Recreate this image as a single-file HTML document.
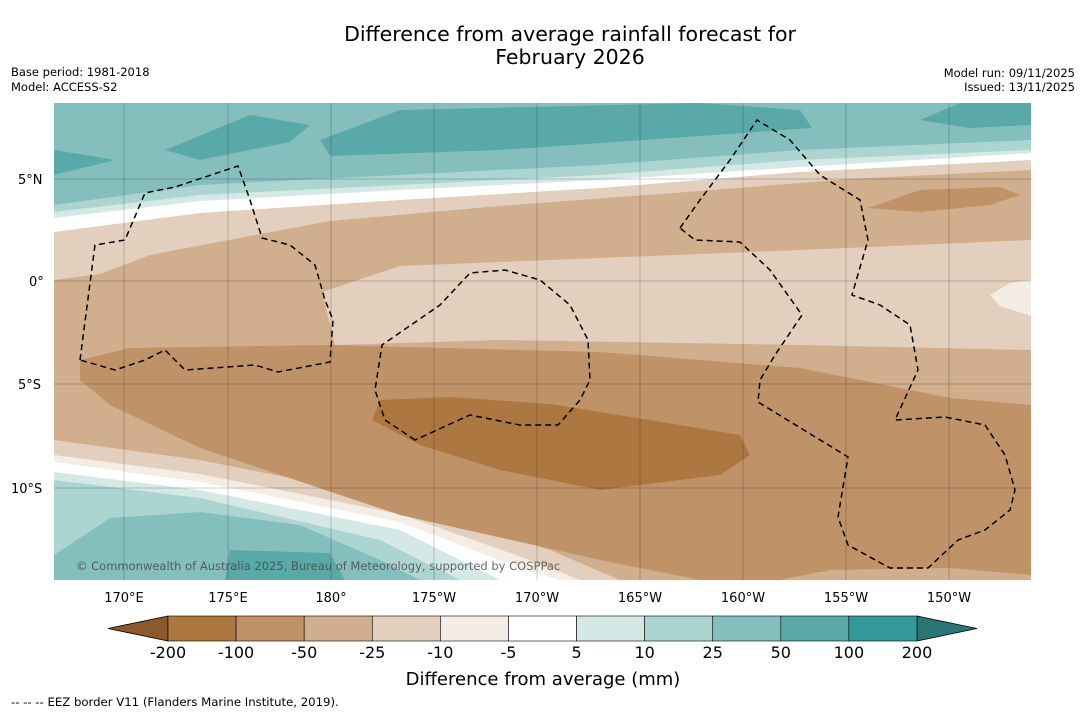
<!DOCTYPE html>
<html><head><meta charset="utf-8"><style>
body{margin:0;background:#fff;font-family:"DejaVu Sans",sans-serif}
</style></head><body>
<svg width="1085" height="713" viewBox="0 0 1085 713" xmlns="http://www.w3.org/2000/svg" font-family="DejaVu Sans, sans-serif">
<text x="570" y="41" text-anchor="middle" font-size="20.5">Difference from average rainfall forecast for</text>
<text x="570" y="64" text-anchor="middle" font-size="20.5">February 2026</text>
<text x="11" y="76" font-size="11.5">Base period: 1981-2018</text>
<text x="11" y="91" font-size="11.5">Model: ACCESS-S2</text>
<text x="1075" y="77" font-size="11.5" text-anchor="end">Model run: 09/11/2025</text>
<text x="1075" y="91" font-size="11.5" text-anchor="end">Issued: 13/11/2025</text>
<defs><clipPath id="mc"><rect x="54" y="103" width="977" height="477"/></clipPath></defs>
<g clip-path="url(#mc)">
<rect x="54" y="103" width="977" height="477" fill="#85bfbd"/>
<path fill="#5aa9a9" d="M320,140 L400,110 L700,103 L800,110 L812,128 L700,136 L500,150 L330,156Z M165,150 L250,115 L310,125 L290,142 L200,160Z M920,120 L960,103 L1031,103 L1031,125 L970,128Z M54,150 L115,160 L54,175Z"/>
<path fill="#acd5d2" d="M54,205 L200,185 L400,175 L600,165 L800,150 L1031,140 L1031,580 L54,580Z"/>
<path fill="#d4e9e6" d="M54,212 L200,195 L400,185 L600,175 L800,160 L1031,150 L1031,580 L54,580Z"/>
<path fill="#ffffff" d="M54,218 L200,201 L400,190 L600,180 L800,167 L1031,153 L1031,580 L54,580Z"/>
<path fill="#e3cfbd" d="M54,232 L200,213 L400,200 L600,188 L800,172 L1031,160 L1031,580 L54,580Z"/>
<path fill="#d1ae8d" d="M54,280 L100,274 L150,255 L250,236 L330,221 L500,206 L700,191 L850,179 L1031,170 L1031,580 L54,580Z"/>
<path fill="#e3cfbd" d="M322,292 L400,266 L600,258 L800,250 L1031,240 L1031,350 L800,345 L500,340 L335,345 Z"/>
<path fill="#f3ede6" d="M990,295 L1010,283 L1031,280 L1031,316 L1000,306Z"/>
<path fill="#c09268" d="M868,208 L920,190 L1000,187 L1020,195 L990,205 L920,212Z"/>
<path fill="#e3cfbd" d="M54,440 L200,460 L400,500 L550,550 L620,580 L54,580Z"/>
<path fill="#f3ede6" d="M54,455 L200,474 L400,514 L530,560 L580,580 L54,580Z"/>
<path fill="#ffffff" d="M54,462 L200,482 L400,522 L520,568 L560,580 L54,580Z"/>
<path fill="#d4e9e6" d="M54,472 L200,490 L400,530 L500,580 L54,580Z"/>
<path fill="#acd5d2" d="M54,480 L200,498 L380,540 L460,580 L54,580Z"/>
<path fill="#85bfbd" d="M54,555 L110,518 L200,512 L300,525 L380,560 L420,580 L54,580Z"/>
<path fill="#5aa9a9" d="M230,550 L330,553 L345,580 L225,580Z"/>
<path fill="#c09268" d="M80,360 L130,348 L330,345 L600,352 L800,368 L950,398 L1031,405 L1031,580 L1000,580 L950,570 L820,572 L780,580 L700,580 L600,560 L400,515 L200,448 L110,405 L80,380Z"/>
<path fill="#d1ae8d" d="M800,580 L830,570 L950,568 L1031,575 L1031,580Z"/>
<path fill="#ad7741" d="M380,400 L450,397 L550,404 L650,420 L740,435 L750,455 L720,475 L600,490 L500,470 L420,445 L372,420Z"/>
<g stroke="#000" stroke-width="0.5" stroke-opacity="0.4">
<line x1="124" y1="103" x2="124" y2="580"/><line x1="228" y1="103" x2="228" y2="580"/><line x1="331" y1="103" x2="331" y2="580"/><line x1="434" y1="103" x2="434" y2="580"/><line x1="537" y1="103" x2="537" y2="580"/><line x1="640" y1="103" x2="640" y2="580"/><line x1="743" y1="103" x2="743" y2="580"/><line x1="846" y1="103" x2="846" y2="580"/><line x1="949" y1="103" x2="949" y2="580"/>
<line x1="54" y1="179" x2="1031" y2="179"/><line x1="54" y1="281" x2="1031" y2="281"/><line x1="54" y1="384" x2="1031" y2="384"/><line x1="54" y1="488" x2="1031" y2="488"/>
</g>
<g fill="none" stroke="#000" stroke-width="1.5" stroke-dasharray="6,4">
<path d="M80,360 L95,245 L125,240 L145,193 L175,187 L238,166 L250,200 L262,238 L290,245 L315,265 L325,300 L333,320 L330,362 L278,372 L255,365 L185,370 L165,350 L145,360 L115,370 Z"/>
<path d="M415,440 L385,420 L375,390 L382,345 L440,305 L470,273 L505,270 L540,280 L570,305 L588,340 L590,380 L580,400 L558,425 L520,425 L470,415 Z"/>
<path d="M680,228 L700,200 L730,160 L757,120 L790,140 L820,175 L860,200 L868,240 L852,295 L880,305 L910,325 L918,370 L895,420 L945,417 L985,425 L1005,455 L1015,490 L1010,510 L985,530 L958,540 L928,568 L890,568 L848,545 L838,517 L848,457 L758,402 L760,380 L775,355 L802,315 L770,270 L740,242 L695,240 Z"/>
</g>
<text x="76" y="570" font-size="11.5" fill="#444" fill-opacity="0.8">© Commonwealth of Australia 2025, Bureau of Meteorology, supported by COSPPac</text>
</g>
<g font-size="13">
<text x="18" y="184">5°N</text><text x="29" y="286">0°</text><text x="18" y="389">5°S</text><text x="11" y="493">10°S</text>
</g>
<g font-size="13" text-anchor="middle">
<text x="124" y="602">170°E</text><text x="228" y="602">175°E</text><text x="331" y="602">180°</text><text x="434" y="602">175°W</text><text x="537" y="602">170°W</text><text x="640" y="602">165°W</text><text x="743" y="602">160°W</text><text x="846" y="602">155°W</text><text x="949" y="602">150°W</text>
</g>
<g id="cbar"></g>
<text x="543" y="685" text-anchor="middle" font-size="18">Difference from average (mm)</text>
<text x="11" y="706" font-size="11.7">--  --  -- EEZ border V11 (Flanders Marine Institute, 2019).</text>
</svg>
<script>
const levels=["-200","-100","-50","-25","-10","-5","5","10","25","50","100","200"];
const colors=["#ad7741","#c09268","#d1ae8d","#e3cfbd","#f3ede6","#ffffff","#d4e9e6","#acd5d2","#85bfbd","#5aa9a9","#34999a"];
const extColors=["#8a5a2e","#2a7575"];
const ns="http://www.w3.org/2000/svg";
const g=document.getElementById('cbar');
const x0=168,x1=917,y0=616,h=25;
const w=(x1-x0)/colors.length;
function mk(t,a){const e=document.createElementNS(ns,t);for(const k in a)e.setAttribute(k,a[k]);g.appendChild(e);return e;}
const lt=mk('polygon',{points:`${x0},${y0} ${x0-60},${y0+h/2} ${x0},${y0+h}`,fill:extColors[0],stroke:'#000','stroke-width':0.8});


const rt=mk('polygon',{points:`${x1},${y0} ${x1+60},${y0+h/2} ${x1},${y0+h}`,fill:extColors[1],stroke:'#000','stroke-width':0.8});


colors.forEach((c,i)=>{
 const r=mk('rect',{x:x0+i*w,y:y0,width:w,height:h,fill:c,stroke:'#000','stroke-width':0.6});
 
 
});
levels.forEach((l,i)=>{
 const t=mk('text',{x:x0+i*w,y:658,'text-anchor':'middle','font-size':16});
 t.textContent=l;
 
 
});
</script>
</body></html>
